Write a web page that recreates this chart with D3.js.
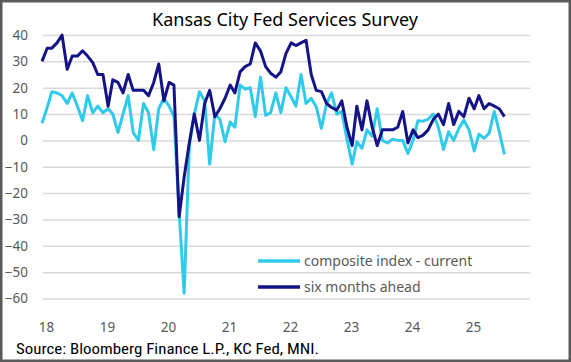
<!DOCTYPE html>
<html>
<head>
<meta charset="utf-8">
<script src="https://cdn.jsdelivr.net/npm/d3@7"></script>
<style>
  body { margin: 0; background: #fff; }
  text { font-family: "Noto Sans", "Open Sans", sans-serif; }
  .tick-lbl { fill: #595959; font-size: 13.5px; }
  .legend-lbl { fill: #595959; font-size: 14px; }
</style>
</head>
<body>
<div id="chart"></div>
<script>
// monthly observations, Jan 2018 .. Aug 2025
const months = d3.timeMonth.range(new Date(2018, 0, 1), new Date(2025, 8, 1));

// composite index - current
const composite = [
  6.5, 12.5, 18.5, 18, 17, 14, 18, 13, 7.5, 17, 10.5, 13,
  10.5, 12, 10, 3, 10, 17, 3, 0, 14, 10.5, -3.5, 12,
  16, 13, 9, -27, -58, -2, 10, 18.5, 15, -9, 10, 8,
  -0.5, 7, 5, 21, 19.5, 20, 9, 24, 9.5, 10.5, 18, 10.5,
  20, 16.5, 13, 25, 14, 16, 12.8, 4.6, 14, 18, 10, 11,
  0.5, -9, -0.5, -3, 4, 1.6, 12, 0, -1, 0.5, 0, 0,
  -5, 0, 7.5, 7.3, 8, 10, 5, -3.4, 3.3, 0, 4.5, 7.7,
  4, -4, 2.4, 0.8, 2.7, 11, 3.3, -5.3
];

// six months ahead
const ahead = [
  30, 35, 35, 37, 40, 27, 32, 32, 34, 32, 29.5, 25,
  25, 13, 23, 22, 18, 25, 19, 19, 19, 17, 22, 29,
  15, 22, 21, -29, -14, -1, 10, 0, 14, 19, 9, 12,
  16, 21, 18, 26, 28, 29, 37, 34, 28, 25.5, 24, 26,
  33, 37, 36, 37, 38, 25, 19, 18.5, 14, 12.5, 11.5, 15,
  5, -2, 13, 4, 15, 5, -2, 4, 4, 4, 5, 11,
  -1, 4, 1, 2, 4, 8, 10, 6, 14, 6, 11, 9,
  16, 12, 17, 12, 14, 13, 12, 9
];

const yTicks = [40, 30, 20, 10, 0, -10, -20, -30, -40, -50, -60];
const yearTicks = d3.range(2018, 2026).map(yr => new Date(yr, 0, 1));

const W = 571, H = 362;
const plot = { left: 43, right: 530, top: 35, bottom: 298.5 };

const svg = d3.select("#chart").append("svg")
  .attr("width", W)
  .attr("height", H);

svg.append("rect")
  .attr("x", 1.25).attr("y", 1.25)
  .attr("width", W - 2.5).attr("height", H - 2.5)
  .attr("fill", "#fff")
  .attr("stroke", "#5a5a5a")
  .attr("stroke-width", 2.5);

const x = d3.scaleTime()
  .domain([new Date(2018, 0, 1), new Date(2026, 0, 1)])
  .range([42, plot.right]);

const y = d3.scaleLinear()
  .domain([-60, 40])
  .range([plot.bottom, plot.top]);

// gridlines
svg.append("g")
  .attr("transform", `translate(${plot.left},0)`)
  .call(d3.axisLeft(y).tickValues(yTicks).tickSize(-(plot.right - plot.left)).tickFormat(""))
  .call(g => g.select(".domain").remove())
  .call(g => g.selectAll("line").attr("stroke", "#d9d9d9").attr("stroke-width", 1.5));

// y labels
svg.append("g")
  .attr("transform", `translate(${plot.left},0)`)
  .call(d3.axisLeft(y).tickValues(yTicks).tickSize(0).tickPadding(15))
  .call(g => g.select(".domain").remove())
  .call(g => g.selectAll("text")
    .attr("class", "tick-lbl"))
  .attr("font-family", null).attr("font-size", null);

// x labels
svg.append("g")
  .attr("transform", `translate(0,${plot.bottom})`)
  .call(d3.axisBottom(x).tickValues(yearTicks).tickSize(0).tickPadding(24)
    .tickFormat(d3.timeFormat("%y")))
  .call(g => g.select(".domain").remove())
  .call(g => g.selectAll("text")
    .attr("class", "tick-lbl")
    .attr("dx", 4))
  .attr("font-family", null).attr("font-size", null);

const line = d3.line()
  .x((d, i) => x(months[i]))
  .y(d => y(d));

svg.append("path")
  .datum(composite)
  .attr("d", line)
  .attr("fill", "none")
  .attr("stroke", "#30cbea")
  .attr("stroke-width", 3)
  .attr("stroke-linejoin", "round");

svg.append("path")
  .datum(ahead)
  .attr("d", line)
  .attr("fill", "none")
  .attr("stroke", "#141487")
  .attr("stroke-width", 3)
  .attr("stroke-linejoin", "round");

// title
svg.append("text")
  .attr("x", 285)
  .attr("y", 26)
  .attr("text-anchor", "middle")
  .attr("fill", "#000")
  .style("font-size", "18px")
  .text("Kansas City Fed Services Survey");

// legend
const legend = [
  { name: "composite index - current", color: "#30cbea", ly: 261 },
  { name: "six months ahead", color: "#141487", ly: 287 }
];
const lg = svg.append("g");
legend.forEach(l => {
  lg.append("line")
    .attr("x1", 258).attr("x2", 300)
    .attr("y1", l.ly).attr("y2", l.ly)
    .attr("stroke", l.color)
    .attr("stroke-width", 3.5);
  lg.append("text")
    .attr("class", "legend-lbl")
    .attr("x", 304)
    .attr("y", l.ly + 5)
    .text(l.name);
});

// source
svg.append("text")
  .attr("x", 16)
  .attr("y", 354)
  .attr("fill", "#000")
  .attr("textLength", 303)
  .attr("lengthAdjust", "spacingAndGlyphs")
  .style("font-family", "'Liberation Sans Narrow', 'Roboto Condensed', 'Noto Sans', sans-serif")
  .style("font-size", "14px")
  .text("Source: Bloomberg Finance L.P., KC Fed, MNI.");
</script>
</body>
</html>
